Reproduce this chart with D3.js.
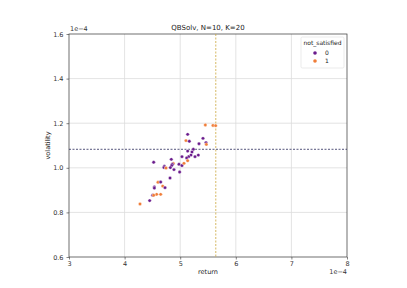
<!DOCTYPE html>
<html>
<head>
<meta charset="utf-8">
<script src="https://cdn.jsdelivr.net/npm/d3@7"></script>
<style>
body { margin: 0; background: #fff; }
text { font-family: "DejaVu Sans", sans-serif; }
</style>
</head>
<body>
<div id="container"></div>
<script>
let w = 407;
let h = 288;
let margin = {left: 69, right: 60, top: 34, bottom: 31};

// returns (x1e-4), volatility (x1e-4), not_satisfied flag
let returns = [5.452, 5.590, 5.638, 5.134, 5.104, 5.164, 5.410, 5.338, 5.464, 5.470,
  5.236, 5.134, 5.212, 5.326, 5.266, 5.194, 5.152, 5.116, 5.032, 5.134,
  4.840, 4.523, 4.876, 4.858, 4.847, 4.715, 4.709, 4.745, 4.978, 5.032,
  5.068, 4.823, 4.888, 4.990, 4.817, 4.601, 4.649, 4.685, 4.727, 4.535,
  4.535, 4.577, 4.649, 4.505, 4.523, 4.451, 4.277];
let vols = [1.192, 1.190, 1.189, 1.150, 1.122, 1.119, 1.132, 1.108, 1.113, 1.105,
  1.083, 1.075, 1.071, 1.057, 1.050, 1.057, 1.050, 1.044, 1.050, 1.032,
  1.038, 1.025, 1.019, 1.016, 1.010, 1.007, 1.001, 0.999, 1.016, 1.010,
  1.020, 1.001, 0.992, 0.981, 0.954, 0.935, 0.936, 0.918, 0.911, 0.914,
  0.909, 0.881, 0.881, 0.877, 0.877, 0.853, 0.838];
let notSatisfied = [1, 1, 1, 0, 1, 0, 0, 0, 0, 1,
  0, 0, 0, 0, 0, 0, 0, 0, 0, 1,
  0, 0, 1, 0, 0, 0, 0, 1, 0, 0,
  1, 0, 0, 0, 0, 1, 0, 1, 0, 0,
  0, 1, 1, 0, 1, 0, 1];

let xTicks = [3, 4, 5, 6, 7, 8];
let yTicks = [0.6, 0.8, 1.0, 1.2, 1.4, 1.6];
let vLine = 5.64;   // return threshold
let hLine = 1.083;  // volatility threshold
let legendLevels = ["0", "1"];
let levelColors = ["#6a1b8c", "#f07d38"];

let viz = d3.select("#container").append("svg")
  .attr("width", w)
  .attr("height", h);

let xScale = d3.scaleLinear().domain([3, 8]).range([margin.left, w - margin.right]);
let yScale = d3.scaleLinear().domain([0.6, 1.6]).range([h - margin.bottom, margin.top]);
let color = d3.scaleOrdinal().domain([0, 1]).range(levelColors);

// grid
viz.append("g").selectAll("line").data(xTicks.slice(1, -1)).join("line")
  .attr("x1", d => xScale(d)).attr("x2", d => xScale(d))
  .attr("y1", margin.top).attr("y2", h - margin.bottom)
  .attr("stroke", "#dcdcdc").attr("stroke-width", 0.8);
viz.append("g").selectAll("line").data(yTicks.slice(1, -1)).join("line")
  .attr("x1", margin.left).attr("x2", w - margin.right)
  .attr("y1", d => yScale(d)).attr("y2", d => yScale(d))
  .attr("stroke", "#dcdcdc").attr("stroke-width", 0.8);

// axes
let xAxis = d3.axisBottom(xScale).tickValues(xTicks).tickFormat(d3.format("d")).tickSize(2.5);
let xAxisGroup = viz.append("g").attr("transform", "translate(0," + (h - margin.bottom) + ")").call(xAxis);
let yAxis = d3.axisLeft(yScale).tickValues(yTicks).tickFormat(d3.format(".1f")).tickSize(2.5);
let yAxisGroup = viz.append("g").attr("transform", "translate(" + margin.left + ",0)").call(yAxis);
[xAxisGroup, yAxisGroup].forEach(g => {
  g.select(".domain").remove();
  g.selectAll("line").attr("stroke", "#333").attr("stroke-width", 0.6);
  g.selectAll("text").attr("fill", "#333").style("font-size", "6.5px")
    .style("font-family", "DejaVu Sans, sans-serif");
});
xAxisGroup.selectAll("text").attr("dy", "0.5em");

// frame
viz.append("rect")
  .attr("x", margin.left).attr("y", margin.top)
  .attr("width", w - margin.left - margin.right)
  .attr("height", h - margin.top - margin.bottom)
  .attr("fill", "none").attr("stroke", "#333").attr("stroke-width", 0.7);

// threshold lines
viz.append("line")
  .attr("x1", xScale(vLine)).attr("x2", xScale(vLine))
  .attr("y1", margin.top).attr("y2", h - margin.bottom)
  .attr("stroke", "#c9a43a").attr("stroke-width", 0.8).attr("stroke-dasharray", "2,1.5");
viz.append("line")
  .attr("x1", margin.left).attr("x2", w - margin.right)
  .attr("y1", yScale(hLine)).attr("y2", yScale(hLine))
  .attr("stroke", "#2a2a5a").attr("stroke-width", 0.8).attr("stroke-dasharray", "2,1.5");

// points
let pts = returns.map((r, i) => ({x: r, y: vols[i], c: notSatisfied[i]}));
viz.append("g").selectAll("circle").data(pts).join("circle")
  .attr("cx", d => xScale(d.x))
  .attr("cy", d => yScale(d.y))
  .attr("r", 1.7)
  .attr("fill", d => color(d.c))
  .attr("stroke", "#fff").attr("stroke-width", 0.4);

// texts
viz.append("text").attr("x", (margin.left + w - margin.right) / 2).attr("y", 30)
  .attr("text-anchor", "middle").style("font-size", "7px").attr("fill", "#222")
  .text("QBSolv, N=10, K=20");
viz.append("text").attr("x", (margin.left + w - margin.right) / 2).attr("y", 274)
  .attr("text-anchor", "middle").style("font-size", "6.5px").attr("fill", "#222")
  .text("return");
viz.append("text").attr("transform", "translate(50," + ((margin.top + h - margin.bottom) / 2) + ") rotate(-90)")
  .attr("text-anchor", "middle").style("font-size", "6.5px").attr("fill", "#222")
  .text("volatility");
viz.append("text").attr("x", margin.left + 1).attr("y", 31)
  .style("font-size", "6.5px").attr("fill", "#333").text("1e\u22124");
viz.append("text").attr("x", w - margin.right).attr("y", 274)
  .attr("text-anchor", "end").style("font-size", "6.5px").attr("fill", "#333").text("1e\u22124");

// legend
let lg = viz.append("g").attr("transform", "translate(" + (w - margin.right - 46) + "," + (margin.top + 3) + ")");
lg.append("rect").attr("width", 43).attr("height", 31).attr("rx", 1.5)
  .attr("fill", "#fff").attr("fill-opacity", 0.8).attr("stroke", "#ddd").attr("stroke-width", 0.6);
lg.append("text").attr("x", 21.5).attr("y", 8).attr("text-anchor", "middle")
  .style("font-size", "6px").attr("fill", "#222").text("not_satisfied");
lg.selectAll(".entry").data(legendLevels).join("g").attr("class", "entry")
  .attr("transform", (d, i) => "translate(14," + (16 + i * 8) + ")")
  .each(function(d, i) {
    d3.select(this).append("circle").attr("r", 1.8).attr("fill", levelColors[i]);
    d3.select(this).append("text").attr("x", 10).attr("dy", "0.35em")
      .style("font-size", "6px").attr("fill", "#222").text(d);
  });
</script>
</body>
</html>
